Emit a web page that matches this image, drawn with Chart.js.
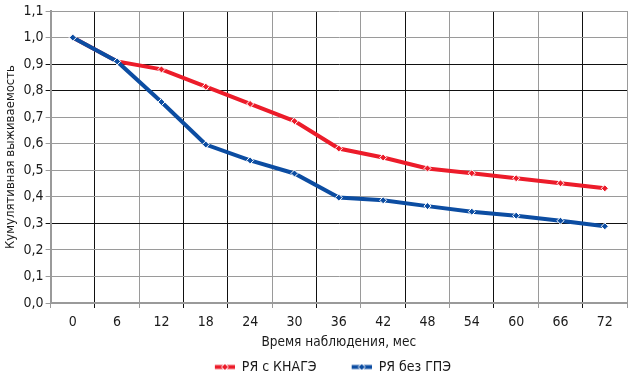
<!DOCTYPE html>
<html>
<head>
<meta charset="utf-8">
<script src="https://cdn.jsdelivr.net/npm/chart.js@4"></script>
<style>
  html, body { margin: 0; padding: 0; background: #fff; }
</style>
</head>
<body>
<canvas id="chartSurvival" width="632" height="386"></canvas>
<script>
(function () {
    const months = ['0', '6', '12', '18', '24', '30', '36', '42', '48', '54', '60', '66', '72'];
    const withKnage = [1.0, 0.91, 0.88, 0.815, 0.75, 0.685, 0.582, 0.548, 0.507, 0.489, 0.47, 0.451, 0.432];
    const withoutGpe = [1.0, 0.91, 0.757, 0.597, 0.537, 0.488, 0.397, 0.387, 0.365, 0.344, 0.329, 0.31, 0.289];
    const seriesNames = ['РЯ с КНАГЭ', 'РЯ без ГПЭ'];

    const palette = {
        red: '#EC1C2A',
        blue: '#0C4DA2',
        gridDark: '#111111',
        gridLight: '#9a9a9a',
        axis: '#9a9a9a',
        text: '#1a1a1a',
    };

    const fontFamily = '"Liberation Sans Narrow", "DejaVu Sans Condensed", "Roboto", sans-serif';

    // line + diamond sample for the legend, with empty space on the left as item gap
    const LEAD = 35;
    function legendSample(color) {
        const c = document.createElement('canvas');
        c.width = LEAD + 20;
        c.height = 9;
        const g = c.getContext('2d');
        g.strokeStyle = color;
        g.lineWidth = 4;
        g.beginPath();
        g.moveTo(LEAD, 4.5);
        g.lineTo(LEAD + 20, 4.5);
        g.stroke();
        g.fillStyle = color;
        g.strokeStyle = '#fff';
        g.lineWidth = 1;
        g.beginPath();
        g.moveTo(LEAD + 10, 1);
        g.lineTo(LEAD + 13.5, 4.5);
        g.lineTo(LEAD + 10, 8);
        g.lineTo(LEAD + 6.5, 4.5);
        g.closePath();
        g.fill();
        g.stroke();
        return c;
    }

    const samples = [legendSample(palette.red), legendSample(palette.blue)];

    // grid looks like a mix of black and gray lines in the original
    const darkY = ['0.3', '0.8', '0.9'];
    const darkX = [1, 3, 4, 6, 8, 10, 12, 13];

    new Chart(document.getElementById('chartSurvival'), {
        type: 'line',
        data: {
            labels: months,
            datasets: [{
                label: seriesNames[0],
                data: withKnage,
                borderColor: palette.red,
                backgroundColor: palette.red,
                borderWidth: 4,
                tension: 0,
                pointStyle: 'rectRot',
                pointRadius: 3.5,
                pointBorderColor: '#fff',
                pointBorderWidth: 1,
                pointBackgroundColor: palette.red,
                order: 2,
            }, {
                label: seriesNames[1],
                data: withoutGpe,
                borderColor: palette.blue,
                backgroundColor: palette.blue,
                borderWidth: 4,
                tension: 0,
                pointStyle: 'rectRot',
                pointRadius: 3.5,
                pointBorderColor: '#fff',
                pointBorderWidth: 1,
                pointBackgroundColor: palette.blue,
                order: 1,
            }],
        },
        options: {
            responsive: false,
            devicePixelRatio: 1,
            animation: false,
            layout: { padding: { top: 11, right: 4, left: 3, bottom: 2 } },
            plugins: {
                tooltip: { enabled: false },
                legend: {
                    position: 'bottom',
                    labels: {
                        usePointStyle: true,
                        pointStyleWidth: LEAD + 20,
                        boxWidth: LEAD + 20,
                        padding: 0,
                        color: palette.text,
                        font: { family: fontFamily, size: 14 },
                        generateLabels: function (chart) {
                            return chart.data.datasets.map(function (ds, i) {
                                return {
                                    text: ds.label,
                                    pointStyle: samples[i],
                                    fillStyle: ds.borderColor,
                                    strokeStyle: ds.borderColor,
                                    lineWidth: 0,
                                    datasetIndex: i,
                                    fontColor: palette.text,
                                };
                            });
                        },
                    },
                },
            },
            scales: {
                x: {
                    offset: true,
                    grid: {
                        offset: true,
                        tickLength: 5,
                        color: function (ctx) {
                            return darkX.includes(ctx.index) ? palette.gridDark : palette.gridLight;
                        },
                        lineWidth: 1,
                    },
                    border: { color: palette.axis, width: 2 },
                    ticks: {
                        color: palette.text,
                        padding: 6,
                        maxRotation: 0,
                        font: { family: fontFamily, size: 14 },
                    },
                    title: {
                        display: true,
                        text: 'Время наблюдения, мес',
                        color: palette.text,
                        padding: { top: -2, bottom: 9 },
                        font: { family: fontFamily, size: 13.5 },
                    },
                },
                y: {
                    min: 0,
                    max: 1.1,
                    grid: {
                        tickLength: 5,
                        color: function (ctx) {
                            const v = ctx.tick ? ctx.tick.value.toFixed(1) : '';
                            return darkY.includes(v) ? palette.gridDark : palette.gridLight;
                        },
                        lineWidth: 1,
                    },
                    border: { color: palette.axis, width: 2 },
                    ticks: {
                        stepSize: 0.1,
                        color: palette.text,
                        padding: 2,
                        font: { family: fontFamily, size: 14 },
                        callback: function (value) {
                            return Number(value).toFixed(1).replace('.', ',');
                        },
                    },
                    title: {
                        display: true,
                        text: 'Кумулятивная выживаемость',
                        color: palette.text,
                        padding: { top: 0, bottom: 3 },
                        font: { family: fontFamily, size: 13 },
                    },
                },
            },
        },
    });
})();
</script>
</body>
</html>
